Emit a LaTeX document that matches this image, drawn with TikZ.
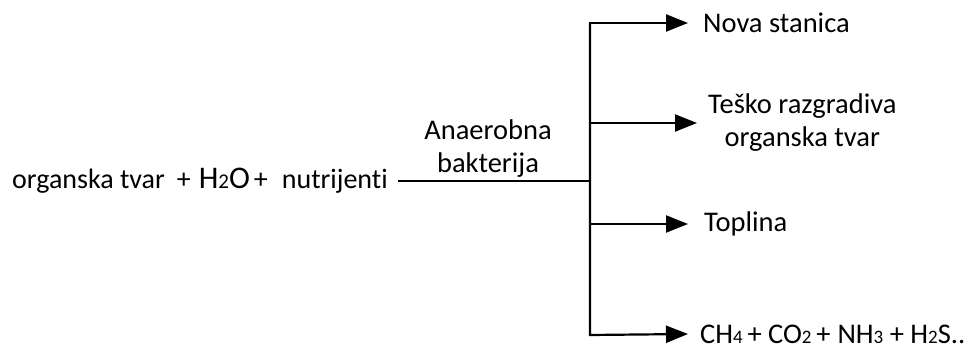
\documentclass[tikz,border=0pt]{standalone}
\usepackage{fontspec}
\setmainfont{Carlito}[Ligatures={NoCommon}]
\usetikzlibrary{arrows.meta}
\newcommand{\sbs}[1]{{\fontsize{19}{19}\selectfont #1}}
\tikzset{
  x=1pt, y=-1pt,
  lbl/.style={font=\fontsize{28.5}{33}\selectfont, inner sep=0pt},
  wire/.style={line width=2.2pt, line join=miter},
  arr/.style={wire, -{Triangle[length=22pt,width=17pt]}},
}
\begin{document}
\begin{tikzpicture}
\useasboundingbox (0,0) rectangle (968,347);
% source text
\node[lbl, font=\fontsize{28}{33}\selectfont, anchor=base west, inner xsep=0pt] (src) at (12,189)
  {organska tvar\hspace{12pt}+\hspace{8pt}{\fontsize{31.5}{33}\selectfont H{\fontsize{21}{21}\selectfont 2}O}\hspace{4pt}+\hspace{14pt}nutrijenti};
\coordinate (srcend) at (398,181);
\coordinate (j) at (590,181);
\coordinate (top) at (590,23);
\coordinate (b2) at (590,123);
\coordinate (b3) at (590,224);
\coordinate (bot) at (590,335);
% label above the main line
\node[lbl, align=center] (anb) at (488,149) {Anaerobna\\bakterija};
% targets
\node[lbl, anchor=west, inner xsep=15pt] (nova) at (688,23) {Nova stanica};
\node[lbl, anchor=west, align=center, inner xsep=11pt] (tesko) at (697,123) {Teško razgradiva\\organska tvar};
\node[lbl, anchor=west, inner xsep=16pt] (topl) at (688,224) {Toplina};
\node[lbl, anchor=west, inner xsep=12pt] (gas) at (688,334)
  {CH\sbs{4}\,+ CO\sbs{2}\,+\hspace{7pt}NH\sbs{3} + H\sbs{2}S..};
% connectors
\draw[wire] (srcend) -- (j);
\draw[arr] (bot) -- (top) -- (nova.west);
\draw[arr] (top) -- (bot) -- (gas.west);
\draw[arr] (b2) -- (tesko.west);
\draw[arr] (b3) -- (topl.west);
\end{tikzpicture}
\end{document}
